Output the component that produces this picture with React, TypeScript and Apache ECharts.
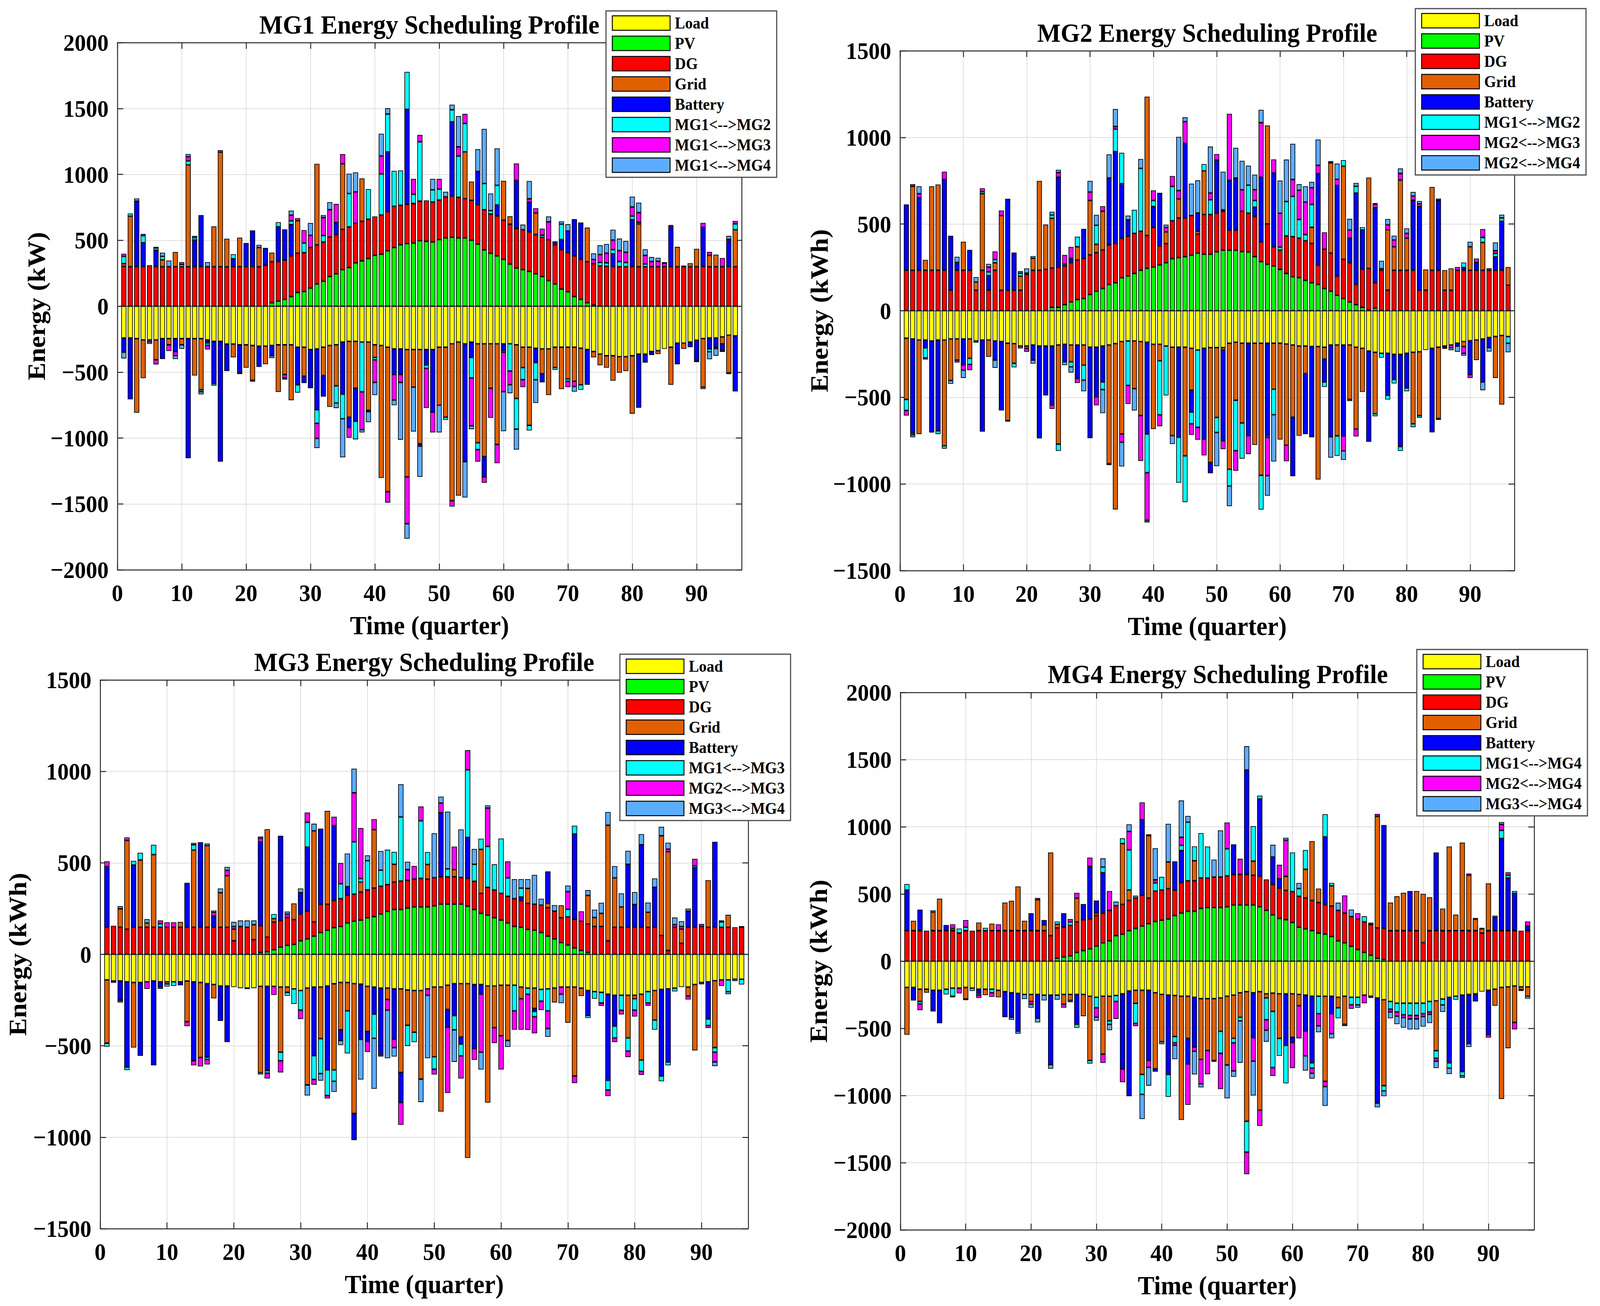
import { useEffect, useRef, useState } from 'react';
import * as echarts from 'echarts';

const FONT = '"Liberation Serif", "Times New Roman", serif';
const PAGE_W = 4375;
const PAGE_H = 3344;

// x categories: quarter 0..97 (bars sit on 1..96)
const quarters = Array.from({ length: 98 }, (_, i) => String(i));
const colors = ['#ffff00', '#00ff00', '#ff0000', '#e06000', '#0000ff', '#00ffff', '#ff00ff', '#5cadff'];
const baseNames = ['Load', 'PV', 'DG', 'Grid', 'Battery'];

// ---------------- MG1 ----------------
const load1 = [
  -241, -241, -246, -256, -256, -256, -246, -246, -246, -246, -246, -246,
  -246, -256, -267, -267, -287, -287, -293, -293, -298, -303, -303, -298,
  -293, -293, -293, -311, -311, -329, -324, -311, -298, -293, -272, -267,
  -267, -272, -272, -293, -298, -311, -324, -324, -329, -329, -329, -329,
  -329, -311, -311, -285, -272, -285, -272, -285, -285, -285, -285, -285,
  -285, -293, -311, -311, -319, -324, -324, -311, -311, -311, -311, -319,
  -329, -344, -363, -376, -376, -383, -383, -376, -363, -363, -344, -337,
  -324, -311, -280, -280, -272, -259, -246, -241, -241, -233, -220, -225,
];
const pv1 = [
  0, 0, 0, 0, 0, 0, 0, 0, 0, 0, 0, 0,
  0, 0, 0, 0, 0, 0, 0, 0, 0, 0, 0, 26,
  39, 52, 73, 104, 111, 137, 168, 189, 225, 246, 277, 293,
  329, 344, 362, 386, 394, 420, 445, 466, 475, 479, 497, 492,
  487, 505, 518, 523, 518, 518, 500, 471, 427, 401, 381, 355,
  319, 290, 277, 264, 246, 225, 194, 168, 130, 109, 73, 52,
  26, 10, 0, 0, 0, 0, 0, 0, 0, 0, 0, 0,
  0, 0, 0, 0, 0, 0, 0, 0, 0, 0, 0, 0,
];
const dg1 = [
  303, 300, 300, 300, 310, 300, 300, 300, 300, 300, 300, 300,
  300, 300, 300, 300, 300, 300, 300, 300, 300, 300, 310, 311,
  300, 298, 308, 298, 295, 308, 298, 298, 300, 295, 306, 308,
  300, 300, 298, 295, 298, 298, 313, 300, 298, 300, 300, 310,
  303, 300, 311, 311, 308, 298, 303, 298, 305, 298, 303, 298,
  303, 300, 303, 300, 298, 298, 311, 298, 298, 298, 308, 303,
  311, 313, 306, 303, 300, 300, 300, 300, 300, 300, 300, 300,
  300, 300, 300, 300, 300, 300, 300, 300, 300, 300, 300, 300,
];
const grid1 = [
  20, 383, -562, -290, 0, -150, 52, -47, 111, -47, 772, -280,
  -388, 0, 306, 868, 212, -101, 220, -174, -264, 145, -137, 70,
  -357, -225, -420, 246, -220, 0, 614, -215, -466, -311, 497, -575,
  -355, 326, -518, -96, -1005, -1096, 0, 0, -966, -285, -715, 0,
  0, -440, -531, -1191, -1165, 355, 142, -751, -855, -337, -764, 298,
  60, -407, -155, -593, 163, -189, -350, -155, -318, -241, -259, -277,
  259, -44, -85, -91, -189, -122, -109, -440, 324, 0, 0, -26,
  0, -285, 150, -44, 26, 135, -368, 86, 91, -52, -285, 280,
];
const bat1 = [
  -108, -466, 497, 181, 0, 124, -155, 0, -98, 0, -907, 202,
  391, -23, -321, -912, -205, 60, -212, 179, 275, -158, 132, -78,
  264, 233, 238, -285, -52, -293, -461, -160, 0, 93, -396, -78,
  -251, 0, 0, 0, 0, 453, -194, -194, 720, 0, -18, -117,
  -474, 0, 0, 565, 0, -894, -117, 254, -155, 0, 83, -52,
  0, 363, 0, 225, -109, -65, 0, 26, 78, 163, 280, 280,
  -267, 0, 0, 0, 98, 0, 0, 357, -407, -65, -26, 0,
  0, 298, -161, 8, -39, -155, 298, -83, -70, -52, 194, -422,
];
const mg1Link2 = [
  55, 20, 0, 54, 0, 18, 26, 0, 0, 17, 31, 18,
  -15, -18, -15, 0, 0, 34, -10, 0, -10, 0, 0, 0,
  34, 0, 28, -60, 73, 0, -104, 49, 0, -130, -186, 254,
  -137, -378, 228, -18, 311, 287, 269, 264, 285, 70, 450, -26,
  93, 83, -21, 91, 313, 215, -155, -52, 199, 26, 150, -13,
  -207, -233, -91, -39, -130, 16, 0, -18, 117, -18, 0, -39,
  0, 0, 26, 26, 31, 39, 31, 26, 13, 20, 0, 0,
  0, 0, 0, 0, 0, -10, 0, -21, 0, -10, -10, 44,
];
const mg1Link3 = [
  20, 0, 0, 13, -15, -36, 0, -47, -31, 17, 31, 0,
  0, -31, 0, 16, 0, 0, 0, 0, 0, 0, 0, 0,
  0, -26, 44, 20, 98, 93, -114, 137, 207, 142, 73, -78,
  238, -287, -10, -171, 137, -83, -194, -60, -355, 117, 52, -300,
  -155, 78, 0, -44, 70, 73, -363, -91, -44, -225, -142, -298,
  -104, 130, -57, 26, 36, 49, 135, 0, 0, -44, -39, 0,
  0, 31, 60, 73, 73, 83, 78, 70, 73, 65, 39, 41,
  26, 13, 0, 0, 0, 0, 34, 26, -10, 65, 13, 23,
];
const mg1Link4 = [
  -47, 0, 20, 0, -15, 8, 28, 47, -26, -31, 20, 13,
  -20, 34, 0, 0, 0, 0, 0, 0, 0, 20, 0, -18,
  0, -13, 34, 0, 0, 93, -73, 18, 57, -39, -293, 150,
  148, -21, -80, -96, 168, 44, -39, -435, -114, -337, -233, 0,
  83, -207, 39, 39, 233, -272, -26, 168, 414, 130, 280, -300,
  -65, -155, 39, 135, -176, 0, 41, 0, 21, 52, -39, 0,
  0, 47, 70, 70, 78, 91, 86, 78, 75, 47, 34, 26,
  8, 5, 0, 0, 0, 0, -15, -57, -55, 0, 26, 0,
];

// ---------------- MG2 ----------------
const load2 = [
  -159, -163, -169, -169, -175, -169, -169, -163, -163, -163, -163, -175,
  -169, -169, -175, -178, -188, -190, -204, -204, -198, -204, -204, -204,
  -198, -194, -198, -198, -198, -211, -211, -204, -198, -190, -178, -175,
  -175, -178, -182, -194, -194, -204, -211, -211, -211, -217, -227, -217,
  -213, -213, -213, -188, -182, -188, -188, -188, -188, -188, -188, -188,
  -192, -198, -204, -204, -207, -207, -211, -198, -198, -198, -198, -211,
  -217, -233, -240, -246, -246, -252, -252, -246, -240, -237, -227, -217,
  -211, -204, -198, -188, -178, -173, -169, -163, -155, -149, -143, -149,
];
const pv2 = [
  0, 0, 0, 0, 0, 0, 0, 0, 0, 0, 0, 0,
  0, 0, 0, 0, 0, 0, 0, 0, 0, 0, 0, 19,
  19, 35, 50, 64, 70, 93, 112, 128, 151, 161, 190, 200,
  215, 233, 244, 252, 264, 277, 300, 306, 312, 320, 332, 326,
  326, 340, 349, 349, 349, 341, 338, 312, 283, 268, 258, 238,
  215, 196, 190, 175, 161, 151, 128, 112, 89, 70, 50, 35,
  19, 5, 15, 0, 0, 0, 0, 0, 0, 0, 0, 0,
  0, 0, 0, 0, 0, 0, 0, 0, 0, 0, 0, 0,
];
const dg2 = [
  233, 233, 233, 233, 233, 233, 233, 118, 233, 233, 233, 118,
  233, 118, 233, 118, 118, 118, 118, 209, 233, 233, 239, 227,
  231, 223, 227, 229, 231, 229, 223, 223, 229, 227, 227, 229,
  231, 225, 190, 229, 110, 110, 219, 229, 223, 229, 110, 229,
  229, 223, 225, 116, 116, 233, 225, 231, 114, 233, 110, 112,
  217, 231, 229, 229, 227, 112, 227, 221, 110, 227, 227, 116,
  220, 239, 146, 233, 118, 233, 233, 233, 233, 118, 118, 233,
  233, 118, 118, 233, 233, 233, 233, 233, 233, 233, 233, 147,
];
const grid2 = [
  -353, 485, -543, 60, 485, 495, -611, -240, -122, 165, -112, 47,
  442, -97, 43, 431, -446, -114, 81, -14, 70, 516, 258, 287,
  -572, 0, -97, 76, -116, 314, 48, 223, -685, -957, -533, 0,
  -275, -427, 801, -489, -95, 68, -510, 110, -627, -242, 16, 252,
  -663, -403, -14, -727, -335, -460, 0, -587, -762, 568, -265, -556,
  -584, -417, -518, -159, 93, -767, -68, 520, -524, 537, -314, -472,
  -252, 524, -355, 0, 349, 136, 520, 186, -413, -369, 120, 481,
  -411, 116, 126, 0, -29, 136, -116, 161, 0, -239, -399, 105,
];
const bat2 = [
  380, -543, 419, -45, -528, -524, 524, 314, 45, -151, 118, 0,
  -529, 85, -110, -398, 528, 217, 0, 0, -87, -533, -285, -340,
  520, -101, 25, -194, 171, -525, -287, -208, 386, 530, 316, 95,
  0, 0, -530, 120, 306, 0, 0, -520, 430, -126, 106, -525,
  -62, 306, -524, 287, 300, 0, -533, 54, 374, -533, 427, 0,
  0, -340, 0, -349, -524, 528, -132, -530, 524, -524, 142, 528,
  227, -524, 433, 0, -242, -145, -532, -200, 404, 483, 0, -485,
  404, 0, 0, -16, 16, -196, 45, -248, -58, 78, 283, 0,
];
const mg2Link1 = [
  -64, -10, 0, -58, 0, -19, -16, 0, 0, 0, -35, -10,
  12, 21, 19, 0, 0, -23, 17, 8, 12, 0, 0, 19,
  -39, 10, -29, 58, -87, 0, 110, -43, -8, 130, 178, -256,
  136, 363, -223, 35, -312, -285, 198, -262, -267, -68, -446, 39,
  85, -87, 8, -97, -291, -206, 161, 39, -198, -10, -147, 17,
  198, 233, 107, 35, 132, 0, -29, 0, -116, 35, -10, 39,
  16, 0, -14, -25, -25, -23, -25, -19, -19, -12, 0, 0,
  0, -8, 0, 0, 29, 0, 0, 29, 0, 19, 19, -39,
];
const mg2Link3 = [
  -29, 12, 23, -10, 0, 0, 45, 0, -14, -29, -33, 0,
  19, 27, 47, 29, -6, 0, -14, -19, 0, 0, 0, -23,
  27, 54, 66, -25, 0, 49, -48, 29, 0, 15, -48, -107,
  0, -262, -275, 58, -66, 25, 60, 48, 126, -64, -72, -93,
  39, 35, -48, 384, -116, 124, -107, 62, 314, -221, 78, 196,
  -93, 97, 169, 188, 97, 48, 97, 10, 35, -87, 47, -43,
  0, 0, 19, 10, 29, 39, 39, 27, 25, 16, 0, 0,
  -8, -8, -16, 19, -39, -19, 23, 48, 12, 16, 0, 0,
];
const mg2Link4 = [
  0, -14, 43, 0, 0, 0, 0, -19, 33, -45, 0, 29,
  0, 19, -45, 0, 0, 0, 12, 27, -21, 0, 0, 19,
  16, -19, -33, 0, -64, 64, 60, -136, 136, 101, -140, 25,
  -126, 54, -12, 0, 0, 16, -48, 310, 25, 184, 188, 0,
  268, -194, 220, -116, 175, 167, 113, 87, 74, -116, -270, 188,
  242, 206, 35, 91, 33, 149, 0, -120, 91, -52, 64, 19,
  0, 0, 8, 45, 33, 25, 29, 29, 23, 16, 0, 0,
  10, 0, -14, -33, -14, 29, 0, -48, -23, 48, 19, -52,
];

// ---------------- MG3 ----------------
const load3 = [
  -140, -146, -146, -150, -154, -154, -150, -146, -150, -150, -150, -150,
  -146, -150, -154, -160, -165, -173, -173, -179, -185, -185, -185, -175,
  -175, -175, -179, -179, -189, -198, -185, -179, -179, -173, -161, -154,
  -154, -160, -163, -175, -179, -185, -185, -189, -189, -195, -198, -198,
  -189, -179, -179, -169, -160, -160, -160, -165, -165, -173, -173, -169,
  -169, -169, -179, -185, -185, -192, -189, -185, -179, -179, -179, -185,
  -198, -204, -208, -218, -224, -224, -224, -224, -218, -204, -198, -192,
  -189, -185, -179, -179, -165, -154, -150, -144, -140, -140, -136, -136,
];
const pv3 = [
  0, 0, 0, 0, 0, 0, 0, 0, 0, 0, 0, 0,
  0, 0, 0, 0, 0, 0, 0, 0, 0, 0, 0, 10,
  14, 25, 39, 49, 54, 74, 84, 99, 119, 132, 146, 152,
  171, 181, 187, 200, 206, 220, 235, 245, 245, 253, 259, 259,
  259, 265, 274, 274, 274, 274, 263, 245, 224, 214, 200, 187,
  171, 152, 148, 136, 132, 119, 99, 84, 64, 51, 35, 21,
  10, 0, 0, 0, 0, 0, 0, 0, 0, 0, 0, 0,
  0, 0, 0, 0, 0, 0, 0, 0, 0, 0, 0, 0,
];
const dg3 = [
  148, 156, 148, 138, 148, 148, 148, 148, 148, 148, 148, 148,
  148, 148, 148, 148, 148, 148, 148, 74, 152, 148, 80, 146,
  80, 152, 146, 152, 136, 146, 152, 78, 154, 142, 148, 152,
  152, 148, 154, 152, 156, 152, 146, 150, 156, 152, 152, 156,
  152, 154, 150, 150, 150, 146, 152, 154, 109, 152, 152, 146,
  146, 152, 146, 142, 142, 150, 156, 152, 136, 154, 156, 160,
  156, 152, 152, 74, 148, 148, 148, 148, 148, 148, 148, 103,
  21, 148, 60, 148, 148, 152, 148, 148, 148, 148, 148, 148,
];
const grid3 = [
  -346, 0, 101, 485, -356, 368, 23, 397, 0, -12, 0, 29,
  -222, 422, -410, 446, -76, 189, 282, 64, 0, 0, 82, -472,
  590, 18, -356, -29, 88, 0, -529, 498, -282, 510, -471, -259,
  -155, -710, 54, -247, 319, 0, -62, 97, -457, -193, -228, -484,
  80, -381, -681, -132, 39, -292, -953, 0, 241, -638, -228, -276,
  -302, 0, -64, 82, -111, 0, 23, -78, 68, -195, -486, -43,
  156, 49, 72, 632, 270, 111, -233, -19, -360, 82, -161, 545,
  540, 0, 78, -49, -360, -10, 257, -366, 0, 68, 0, 0,
];
const bat3 = [
  331, 0, -105, -467, 340, -401, 0, -461, -29, 0, 0, -19,
  243, -432, 465, -403, 62, -191, -307, 0, 0, 0, 0, 459,
  -461, 0, 463, 0, 0, 117, 350, -375, 414, -459, 409, -58,
  47, -146, -302, -54, -148, -364, 0, -276, -165, 0, 0, 0,
  0, 0, 350, -97, -175, -39, 224, -350, -53, 0, 0, 0,
  0, 0, 19, 0, -16, 0, 175, 0, 0, 0, 467, 0,
  -136, 0, 0, -471, -169, 0, 344, 124, 451, 0, 218, -473,
  -399, 0, 0, 88, 325, 0, -204, 467, 0, 0, 0, 0,
];
const mg3Link1 = [
  -19, 0, 0, -16, 23, 39, 0, 54, 19, -14, -23, 0,
  0, 29, 0, -12, 0, 0, 0, 0, 0, -5, 0, -10,
  -14, 25, -47, -19, -82, -107, 136, -130, -191, -140, -62, 82,
  -233, 286, 19, 160, -132, 88, 191, 68, 350, -113, -54, 315,
  68, -68, 0, 43, -78, -64, 370, 93, 58, 224, 140, 300,
  101, -140, 49, -33, -29, -64, -120, 0, 0, 41, 45, 0,
  -14, -39, -58, -53, -64, -82, -72, -62, -62, -62, -53, -29,
  -19, -18, 0, 0, 10, 0, -35, -25, 29, -64, -10, -29,
];
const mg3Link2 = [
  29, -10, -12, 16, 0, 0, -39, 0, 18, 27, 27, 0,
  -25, -25, -49, -27, 19, 0, 29, 14, 0, 0, 0, 19,
  -29, -47, -64, 19, 0, -49, 53, -29, 0, -16, 49, 113,
  0, 268, 276, -58, 58, -10, -58, -45, -121, 58, 72, 78,
  -35, -29, 53, -360, 126, -124, 107, -62, -317, 210, -84, -185,
  90, -103, -169, -195, -91, -49, -97, 0, -39, 97, -39, 54,
  0, 0, -16, -33, -23, -23, -33, -35, -19, -16, 0, 0,
  14, 14, 14, -19, 39, 14, -14, -53, -33, 0, 0, 6,
];
const mg3Link4 = [
  0, 0, 14, 0, 0, 0, 21, 0, -10, 0, 0, 0,
  0, 10, 0, 12, 10, 23, 19, 25, 33, 37, 23, 10,
  0, 0, 0, 14, 0, 23, -58, 39, -39, 0, -58, -25,
  181, 132, -220, 29, -276, 105, -263, -49, 179, 43, 0, -126,
  -344, 243, 35, 313, -175, 263, 0, 84, -95, 14, 0, 0,
  -35, 107, 49, 51, 160, 35, -45, 33, -49, 33, 0, 0,
  29, 43, 58, 72, 64, 74, 74, 68, 58, 53, 49, 49,
  35, 39, 29, 14, 0, 0, 0, -23, 8, -14, 0, 0,
];

// ---------------- MG4 ----------------
const load4 = [
  -196, -196, -209, -209, -217, -217, -209, -201, -201, -196, -201, -209,
  -209, -209, -217, -227, -235, -240, -248, -248, -248, -253, -253, -253,
  -248, -248, -248, -248, -261, -269, -261, -261, -256, -243, -222, -217,
  -217, -217, -235, -248, -253, -256, -261, -261, -269, -279, -279, -279,
  -274, -261, -253, -235, -227, -235, -227, -243, -238, -243, -243, -243,
  -248, -253, -261, -261, -261, -261, -269, -261, -269, -269, -253, -261,
  -274, -287, -300, -313, -313, -313, -313, -313, -300, -295, -282, -269,
  -261, -253, -248, -243, -227, -217, -209, -196, -191, -185, -191, -191,
];
const pv4 = [
  0, 0, 0, 0, 0, 0, 0, 0, 0, 0, 0, 0,
  0, 0, 0, 0, 0, 0, 0, 0, 0, 0, 0, 21,
  31, 39, 65, 78, 91, 112, 136, 151, 190, 201, 227, 243,
  261, 279, 295, 305, 313, 339, 358, 371, 371, 392, 399, 399,
  399, 405, 418, 418, 418, 418, 405, 378, 344, 318, 308, 287,
  253, 240, 227, 209, 201, 183, 151, 136, 110, 86, 65, 44,
  21, 13, 0, 0, 0, 0, 0, 0, 0, 0, 0, 0,
  0, 0, 0, 0, 0, 0, 0, 0, 0, 0, 0, 0,
];
const dg4 = [
  227, 227, 227, 227, 227, 227, 227, 227, 209, 227, 227, 227,
  227, 227, 227, 227, 227, 227, 227, 227, 227, 227, 190, 227,
  222, 227, 227, 230, 222, 227, 222, 227, 222, 222, 225, 227,
  230, 190, 227, 225, 227, 190, 225, 227, 227, 227, 219, 227,
  227, 230, 227, 227, 227, 222, 227, 230, 225, 225, 219, 230,
  230, 230, 225, 227, 219, 227, 227, 222, 222, 227, 227, 229,
  227, 230, 227, 227, 227, 227, 227, 138, 227, 227, 227, 227,
  227, 227, 227, 227, 209, 227, 227, 227, 227, 227, 227, 227,
];
const grid4 = [
  -352, 73, -91, -26, 138, 238, 0, 16, 0, -86, 0, 60,
  -44, 52, -52, 209, 222, 329, 73, -52, 230, 42, 619, 26,
  -73, -44, 177, -162, -478, 18, -431, -183, 0, 452, 78, -97,
  -626, 465, -567, -352, 198, -305, -921, -313, 149, -452, -386, -460,
  -248, -512, -321, -183, -965, 104, -882, -31, -136, -332, 104, -324,
  -84, 214, 441, 104, -634, 151, -78, -209, 0, 0, 0, 13,
  830, -640, 209, 256, 282, 0, 295, 363, 248, -371, 164, 626,
  120, 655, 412, 86, 31, 352, -123, -830, -457, -271, -21, -70,
];
const bat4 = [
  303, -97, 157, 0, -157, -245, 42, 0, 0, 0, 0, -31,
  0, 0, 0, -190, -183, -282, 0, 130, -177, 37, -517, 0,
  104, 0, -222, 117, 392, 94, 300, 0, 0, -559, -783, 0,
  561, -522, -21, 0, -590, 214, 240, -191, -371, 0, 0, 0,
  0, 0, 224, 0, 778, -334, 574, 0, 206, 70, -384, -39,
  0, -269, -496, 0, 504, -130, 0, 0, 0, 0, 0, 0,
  -783, 770, 0, 0, 0, 295, 0, 0, 0, 582, 0, -488,
  0, -569, -365, -57, 0, -331, 99, 686, 392, 277, 0, 34,
];
const mg4Link1 = [
  44, 0, -18, 0, 13, 0, -39, -60, 34, 26, -21, -13,
  21, -26, 0, 0, 0, 0, 0, 0, 0, 0, 0, 21,
  0, 26, -26, 0, -23, -78, 42, -26, -44, 39, 298, -149,
  -149, 10, 60, 97, -167, -47, 39, 436, 107, 334, 235, -10,
  -164, 201, -34, -26, -230, 261, 26, -162, -418, -130, -282, 292,
  57, 143, -39, -130, 170, 21, -78, 0, -55, -57, 42, 0,
  0, -39, -57, -65, -86, -91, -91, -78, -78, -57, -44, -39,
  -26, -31, 0, 0, 0, 0, 13, 60, 21, 18, -10, -18,
];
const mg4Link2 = [
  0, 0, -47, 0, 0, 0, 0, 31, -39, 52, 0, -21,
  0, -31, 47, 0, 0, 0, 0, -21, 13, 0, 0, 0,
  -26, 21, 39, 0, 65, -70, -65, 144, -130, -99, 138, -21,
  130, -52, 23, 0, 0, -18, 60, -305, -31, -183, -177, 0,
  -266, 196, -209, 117, -164, -175, -117, -78, -63, 104, 269, -190,
  -243, -183, -39, -91, -39, -149, 0, 131, -31, 44, -60, -13,
  18, 0, -21, -31, -21, -26, -26, -21, -18, -21, 0, 0,
  0, 0, 13, 8, 8, -21, 0, 44, 21, -52, 0, 34,
];
const mg4Link3 = [
  0, 0, 0, 0, 0, 0, 0, -8, 0, -8, 0, 0,
  0, 0, 0, 0, -18, -18, -34, -26, -31, -39, -31, -34,
  0, -13, 0, 0, 0, -26, 65, -44, 31, 0, 52, 18,
  -183, -136, 235, -18, 284, -104, 274, 47, -172, -26, 0, 130,
  347, -248, -44, -313, 177, -256, 0, -86, 91, 0, 18, 0,
  42, -110, -39, -47, -143, -34, 57, -13, 52, -21, 0, 0,
  -31, -39, -47, -60, -75, -78, -78, -75, -65, -52, -52, -44,
  0, -16, -26, 0, 0, 0, 0, 18, 0, 0, 0, 0,
];

const panels = [
  {
    title: 'MG1 Energy Scheduling Profile', yName: 'Energy (kW)', yMax: 2000,
    links: ['MG1<-->MG2', 'MG1<-->MG3', 'MG1<-->MG4'],
    values: [load1, pv1, dg1, grid1, bat1, mg1Link2, mg1Link3, mg1Link4],
    grid: { left: 321, top: 109, width: 1707, height: 1350 },
    legend: { left: 1657, top: 28 }, titleX: 1174, titleY: 63, yGap: 185,
  },
  {
    title: 'MG2 Energy Scheduling Profile', yName: 'Energy (kWh)', yMax: 1500,
    links: ['MG1<-->MG2', 'MG2<-->MG3', 'MG2<-->MG4'],
    values: [load2, pv2, dg2, grid2, bat2, mg2Link1, mg2Link3, mg2Link4],
    grid: { left: 2461, top: 130, width: 1680, height: 1331 },
    legend: { left: 3870, top: 22 }, titleX: 3301, titleY: 84, yGap: 185,
  },
  {
    title: 'MG3 Energy Scheduling Profile', yName: 'Energy (kWh)', yMax: 1500,
    links: ['MG1<-->MG3', 'MG2<-->MG3', 'MG3<-->MG4'],
    values: [load3, pv3, dg3, grid3, bat3, mg3Link1, mg3Link2, mg3Link4],
    grid: { left: 274, top: 1741, width: 1772, height: 1405 },
    legend: { left: 1695, top: 1675 }, titleX: 1160, titleY: 1695, yGap: 192,
  },
  {
    title: 'MG4 Energy Scheduling Profile', yName: 'Energy (kWh)', yMax: 2000,
    links: ['MG1<-->MG4', 'MG2<-->MG4', 'MG3<-->MG4'],
    values: [load4, pv4, dg4, grid4, bat4, mg4Link1, mg4Link2, mg4Link3],
    grid: { left: 2462, top: 1773, width: 1733, height: 1376 },
    legend: { left: 3874, top: 1663 }, titleX: 3330, titleY: 1726, yGap: 190,
  },
];

const AXIS_COLOR = '#262626';
const tickAt = (i: number) => i % 10 === 0 && i <= 90;
const minus = (v: number) => (v < 0 ? '\u2212' + Math.abs(v) : String(v));
const toBars = (arr: number[]) => ['-', ...arr.map((v) => (v === 0 ? '-' : v)), '-'];

const axisFont = { fontFamily: FONT, fontWeight: 'bold' as const, color: '#000' };

function buildOption() {
  const lineStyle = { color: AXIS_COLOR, width: 2.5 };
  const bottomX = panels.map((p, i) => ({
    type: 'category', gridIndex: i, data: quarters, boundaryGap: false,
    axisLine: { show: true, onZero: false, lineStyle },
    axisTick: { show: true, inside: true, length: 16, interval: tickAt, lineStyle },
    axisLabel: { interval: tickAt, margin: 28, fontSize: 62, ...axisFont },
    splitLine: { show: true, interval: tickAt, lineStyle: { color: '#dedede', width: 2 } },
    name: 'Time (quarter)', nameLocation: 'middle', nameGap: 108,
    nameTextStyle: { fontSize: 68, ...axisFont },
  }));
  const topX = panels.map((p, i) => ({
    type: 'category', gridIndex: i, position: 'top', data: quarters, boundaryGap: false,
    axisLine: { show: true, onZero: false, lineStyle },
    axisTick: { show: true, inside: true, length: 16, interval: tickAt, lineStyle },
    axisLabel: { show: false }, splitLine: { show: false },
  }));
  const leftY = panels.map((p, i) => ({
    type: 'value', gridIndex: i, min: -p.yMax, max: p.yMax, interval: 500,
    axisLine: { show: true, lineStyle },
    axisTick: { show: true, inside: true, length: 16, lineStyle },
    axisLabel: { formatter: minus, margin: 24, fontSize: 62, ...axisFont },
    splitLine: { show: true, lineStyle: { color: '#dedede', width: 2 } },
    name: p.yName, nameLocation: 'middle', nameRotate: 90, nameGap: p.yGap,
    nameTextStyle: { fontSize: 68, ...axisFont },
  }));
  const rightY = panels.map((p, i) => ({
    type: 'value', gridIndex: i, position: 'right', min: -p.yMax, max: p.yMax, interval: 500,
    axisLine: { show: true, lineStyle },
    axisTick: { show: true, inside: true, length: 16, lineStyle },
    axisLabel: { show: false }, splitLine: { show: false },
  }));

  const series = panels.flatMap((p, i) => {
    const names = [...baseNames, ...p.links];
    const barWidth = (0.8 * p.grid.width) / 97;
    return p.values.map((vals, k) => ({
      type: 'bar', name: names[k], xAxisIndex: i, yAxisIndex: i,
      stack: 'mg' + i, barWidth,
      itemStyle: { color: colors[k], borderColor: '#000', borderWidth: 1.8 },
      data: toBars(vals),
      ...(k === 0
        ? {
            markLine: {
              silent: true, symbol: 'none', label: { show: false },
              lineStyle: { color: AXIS_COLOR, width: 2, type: 'solid' },
              data: [{ yAxis: 0 }],
            },
          }
        : {}),
    }));
  });

  const legend = panels.map((p) => ({
    orient: 'vertical', left: p.legend.left, top: p.legend.top,
    itemWidth: 158, itemHeight: 37, itemGap: 10, icon: 'rect',
    padding: [10, 16, 10, 16], backgroundColor: '#fff',
    borderColor: '#4a4a4a', borderWidth: 3, borderRadius: 0,
    selectedMode: false,
    itemStyle: { borderColor: '#000', borderWidth: 2.5 },
    textStyle: { fontSize: 42, padding: [0, 0, 0, 8], ...axisFont },
    data: [...baseNames, ...p.links].map((n, k) => ({ name: n, itemStyle: { color: colors[k] } })),
  }));

  const graphic = panels.map((p) => ({
    type: 'text', x: p.titleX, y: p.titleY, z: 1,
    style: {
      text: p.title, fill: '#000', fontSize: 68, fontWeight: 'bold', fontFamily: FONT,
      textAlign: 'center', textVerticalAlign: 'middle', align: 'center', verticalAlign: 'middle',
    },
  }));

  return {
    animation: false,
    backgroundColor: '#fff',
    textStyle: { fontFamily: FONT },
    grid: panels.map((p) => ({ ...p.grid, show: false })),
    xAxis: [...bottomX, ...topX],
    yAxis: [...leftY, ...rightY],
    legend,
    graphic,
    series,
  };
}

export default function App() {
  const chartRef = useRef<HTMLDivElement>(null);
  // the drawing is laid out in 4375x3344 reference pixels; stretch it onto the real viewport
  const [fit] = useState(() => ({
    sx: window.innerWidth / PAGE_W,
    sy: window.innerHeight / PAGE_H,
  }));
  useEffect(() => {
    if (!chartRef.current) return;
    const chart = echarts.init(chartRef.current, undefined, { renderer: 'svg' });
    chart.setOption(buildOption() as any);
    return () => {
      chart.dispose();
    };
  }, []);
  return (
    <div
      ref={chartRef}
      style={{
        position: 'fixed', left: 0, top: 0, width: PAGE_W, height: PAGE_H, background: '#fff',
        transform: `scale(${fit.sx}, ${fit.sy})`, transformOrigin: '0 0',
      }}
    />
  );
}
